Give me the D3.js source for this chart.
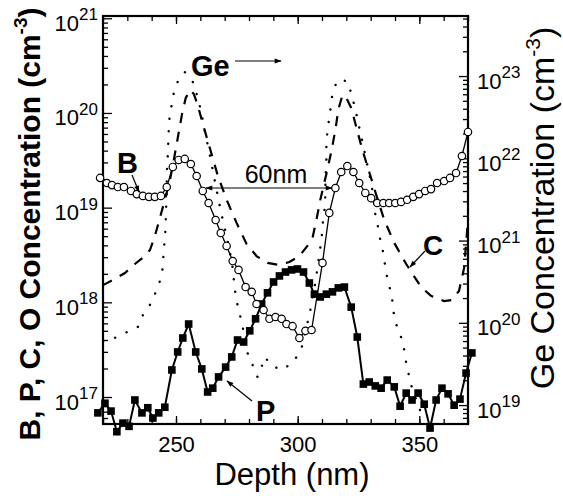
<!DOCTYPE html>
<html>
<head>
<meta charset="utf-8">
<script src="https://cdn.jsdelivr.net/npm/d3@7"></script>
<style>
body { margin: 0; background: #fff; }
text { font-family: "Liberation Sans", Arial, sans-serif; fill: #000; }
</style>
</head>
<body>
<div id="chart"></div>
<script>
// B profile (open circles), left axis
var bDepth = [218.8, 221.6, 223.7, 226.1, 228.6, 231.5, 233.9, 236.4, 238.9, 241.3,
    243.8, 246.2, 248.7, 251.1, 253.6, 256.1, 258.5, 261.0, 263.4, 266.3,
    268.4, 270.8, 273.3, 275.7, 278.6, 281.1, 283.1, 286.0, 288.4, 290.9,
    293.4, 295.4, 297.9, 300.7, 303.2, 305.7, 310.2, 313.0, 315.5, 317.9,
    320.4, 322.9, 325.3, 327.8, 330.2, 332.7, 335.2, 337.6, 340.1, 342.5,
    345.0, 347.5, 349.9, 352.4, 354.8, 357.3, 360.2, 362.6, 365.1, 367.5, 370.0];
var bConc = [2.06e19, 1.82e19, 1.73e19, 1.65e19, 1.65e19, 1.50e19, 1.39e19, 1.33e19, 1.30e19, 1.30e19,
    1.33e19, 1.65e19, 2.69e19, 3.19e19, 3.27e19, 2.89e19, 2.16e19, 1.50e19, 1.12e19, 7.4e18,
    5.4e18, 3.94e18, 2.73e18, 2.20e18, 1.45e18, 1.29e18, 9.6e17, 8.3e17, 6.7e17, 7.0e17,
    6.7e17, 5.9e17, 5.6e17, 4.2e17, 5.0e17, 5.1e17, 2.61e18, 8.8e18, 1.61e19, 2.38e19,
    2.75e19, 2.38e19, 1.82e19, 1.43e19, 1.26e19, 1.12e19, 1.12e19, 1.12e19, 1.12e19, 1.15e19,
    1.21e19, 1.30e19, 1.39e19, 1.50e19, 1.57e19, 1.82e19, 1.91e19, 2.06e19, 2.32e19, 3.51e19, 6.3e19];

// P profile (filled squares), left axis
var pDepth = [217.9, 220.8, 223.3, 225.7, 228.2, 230.7, 233.1, 236.0, 238.4, 240.5,
    242.9, 245.4, 248.3, 250.7, 252.8, 255.2, 258.1, 260.6, 263.0, 265.1,
    267.5, 270.4, 272.9, 275.3, 277.8, 280.3, 282.7, 285.2, 287.6, 290.1,
    292.5, 295.0, 297.5, 299.9, 302.4, 304.8, 306.9, 309.3, 311.8, 314.3,
    316.7, 319.2, 322.0, 324.5, 327.0, 329.4, 331.9, 334.3, 336.8, 339.7,
    342.1, 344.6, 347.0, 349.5, 352.0, 354.4, 356.9, 359.3, 361.8, 364.3,
    366.7, 369.2, 371.6];
var pConc = [6.8e16, 8.6e16, 7.1e16, 4.3e16, 5.3e16, 4.9e16, 9.3e16, 6.8e16, 7.7e16, 6.0e16,
    6.8e16, 7.8e16, 1.93e17, 2.99e17, 4.2e17, 5.9e17, 2.99e17, 1.98e17, 1.13e17, 1.24e17,
    1.63e17, 2.07e17, 2.65e17, 4.0e17, 3.81e17, 5.0e17, 6.7e17, 9.6e17, 1.26e18, 1.64e18,
    1.90e18, 2.09e18, 2.20e18, 2.25e18, 2.09e18, 1.60e18, 1.22e18, 1.14e18, 1.22e18, 1.29e18,
    1.42e18, 1.45e18, 8.9e17, 4.3e17, 1.37e17, 1.44e17, 1.31e17, 1.24e17, 1.51e17, 1.28e17,
    8.0e16, 1.10e17, 9.3e16, 1.10e17, 8.4e16, 4.7e16, 9.3e16, 1.24e17, 1.08e17, 8.2e16,
    9.5e16, 1.79e17, 2.92e17];

// C profile (dashed), left axis
var cDepth = [220.0, 224.9, 229.0, 233.1, 237.2, 239.3, 241.3, 243.4, 245.4, 247.5,
    249.1, 250.7, 252.4, 254.0, 255.7, 257.3, 258.9, 261.0, 263.9, 267.1,
    270.8, 274.9, 279.0, 283.1, 287.6, 292.5, 296.6, 300.7, 304.0, 306.1,
    307.7, 309.3, 311.8, 313.8, 315.5, 316.7, 318.4, 320.0, 322.0, 324.1,
    326.6, 329.4, 332.3, 335.6, 339.7, 344.6, 350.7, 354.8, 360.2, 363.4,
    366.3, 368.4, 370.0];
var cConc = [1.52e18, 1.77e18, 2.04e18, 2.54e18, 3.08e18, 3.57e18, 5.0e18, 7.8e18, 1.21e19, 1.96e19,
    3.19e19, 5.4e19, 9.5e19, 1.44e20, 1.75e20, 1.59e20, 1.22e20, 7.7e19, 4.27e19, 2.21e19,
    1.21e19, 6.9e18, 4.13e18, 3.08e18, 2.61e18, 2.48e18, 2.67e18, 3.08e18, 3.94e18, 4.78e18,
    7.4e18, 1.21e19, 2.27e19, 3.87e19, 6.6e19, 1.08e20, 1.55e20, 1.44e20, 1.13e20, 7.1e19,
    4.06e19, 2.38e19, 1.36e19, 7.4e18, 4.24e18, 2.54e18, 1.45e18, 1.17e18, 1.03e18, 1.06e18,
    1.32e18, 2.31e18, 7.4e18];

// Ge profile (dotted), right axis
var geDepth = [220.0, 224.1, 229.8, 234.3, 236.4, 240.1, 242.1, 244.2, 244.6, 245.0,
    245.4, 245.8, 245.8, 246.2, 246.2, 246.2, 246.6, 246.6, 247.0, 247.0,
    247.9, 248.7, 250.3, 253.6, 256.9, 258.6, 260.2, 261.4, 262.6, 263.9,
    265.1, 266.3, 267.5, 268.8, 270.4, 272.0, 273.3, 274.1, 274.9, 276.1,
    277.4, 279.4, 281.5, 283.5, 284.8, 286.4, 289.7, 293.4, 298.3, 301.6,
    304.0, 305.2, 306.1, 307.3, 308.1, 308.9, 309.8, 310.2, 311.0, 311.4,
    311.4, 311.8, 311.8, 312.2, 313.0, 313.8, 314.3, 316.3, 320.4, 322.0,
    323.3, 324.5, 325.7, 327.0, 328.2, 329.4, 330.7, 331.5, 332.7, 333.5,
    334.8, 335.6, 336.4, 337.6, 338.8, 339.3, 340.5, 342.5, 343.8, 344.6,
    345.8, 347.0, 350.7];
var geConc = [6.0e19, 6.4e19, 7.7e19, 8.9e19, 1.24e20, 1.79e20, 2.57e20, 3.70e20, 5.3e20, 7.7e20,
    1.07e21, 1.54e21, 2.22e21, 3.2e21, 4.6e21, 6.6e21, 9.5e21, 1.26e22, 1.81e22, 2.69e22,
    3.86e22, 5.6e22, 8.2e22, 1.12e23, 8.5e22, 5.9e22, 3.86e22, 2.54e22, 1.67e22, 1.10e22,
    7.2e21, 4.7e21, 3.1e21, 2.04e21, 1.27e21, 7.7e20, 4.6e20, 2.64e20, 1.84e20, 1.32e20,
    8.9e19, 4.3e19, 3.06e19, 2.19e19, 2.67e19, 3.84e19, 2.98e19, 2.67e19, 3.33e19, 4.93e19,
    9.9e19, 1.43e20, 2.06e20, 3.13e20, 4.6e20, 6.9e20, 1.01e21, 1.54e21, 2.35e21, 3.6e21,
    5.4e21, 9.5e21, 1.45e22, 2.09e22, 3.18e22, 4.7e22, 6.2e22, 8.9e22, 8.7e22, 6.2e22,
    4.4e22, 3.08e22, 2.09e22, 1.41e22, 9.5e21, 6.6e21, 4.1e21, 2.35e21, 1.68e21, 1.17e21,
    8.1e20, 5.8e20, 4.0e20, 2.88e20, 2.00e20, 1.39e20, 9.6e19, 6.7e19, 4.7e19, 3.24e19,
    2.25e19, 1.61e19, 8.0e18];

// Tick values
var xMajor = [250, 300, 350];
var xMinor = [220, 230, 240, 250, 260, 270, 280, 290, 300, 310, 320, 330, 340, 350, 360, 370];
var leftMajor = [1e17, 1e18, 1e19, 1e20, 1e21];
var rightMajor = [1e19, 1e20, 1e21, 1e22, 1e23];

var svgWidth = 563, svgHeight = 496;
var margin = { top: 16, right: 95, bottom: 72, left: 103 };
var width = svgWidth - margin.left - margin.right;
var height = svgHeight - margin.top - margin.bottom;

var svg = d3.select("#chart").append("svg")
    .attr("width", svgWidth)
    .attr("height", svgHeight);

var chartGroup = svg.append("g")
    .attr("transform", `translate(${margin.left}, ${margin.top})`);

// Scales
var xScale = d3.scaleLinear().domain([220, 370]).range([0, width]);
var yLeft = d3.scaleLog().domain([Math.pow(10, 16.715), Math.pow(10, 21.024)]).range([height, 0]);
var yRight = d3.scaleLog().domain([Math.pow(10, 18.77), Math.pow(10, 23.73)]).range([height, 0]);

// arrow head marker
var defs = svg.append("defs");
defs.append("marker")
    .attr("id", "head")
    .attr("viewBox", "0 0 10 10")
    .attr("refX", 9).attr("refY", 5)
    .attr("markerWidth", 10).attr("markerHeight", 7)
    .attr("markerUnits", "userSpaceOnUse")
    .attr("orient", "auto-start-reverse")
    .append("path")
    .attr("d", "M0,1.5 L10,5 L0,8.5 Z")
    .attr("fill", "#000");

// superscript labels for log ticks
function powerLabel(sel) {
    sel.each(function(d) {
        var t = d3.select(this).text(null);
        t.append("tspan").text("10");
        t.append("tspan").attr("font-size", "17px").attr("dy", "-10.5")
            .text(Math.round(Math.log10(d)));
    });
}

function styleAxis(g) {
    g.select(".domain").remove();
    g.selectAll(".tick line").attr("stroke", "#000").attr("stroke-width", 1.3);
    g.selectAll("text").attr("font-size", "22px").attr("font-family", "Liberation Sans, Arial, sans-serif");
}

// Left axis (B, P, C, O)
var leftMinor = yLeft.ticks().filter(v => leftMajor.indexOf(v) < 0);
chartGroup.append("g")
    .call(d3.axisLeft(yLeft).tickValues(leftMinor).tickSize(-5).tickFormat(""))
    .call(styleAxis);
var gLeft = chartGroup.append("g")
    .call(d3.axisLeft(yLeft).tickValues(leftMajor).tickSize(-9).tickPadding(5).tickFormat(d => d))
    .call(styleAxis);
gLeft.selectAll(".tick text").attr("dy", "12").call(powerLabel);

// Right axis (Ge)
var rightMinor = yRight.ticks().filter(v => rightMajor.indexOf(v) < 0);
chartGroup.append("g")
    .attr("transform", `translate(${width}, 0)`)
    .call(d3.axisRight(yRight).tickValues(rightMinor).tickSize(-5).tickFormat(""))
    .call(styleAxis);
var gRight = chartGroup.append("g")
    .attr("transform", `translate(${width}, 0)`)
    .call(d3.axisRight(yRight).tickValues(rightMajor).tickSize(-9).tickPadding(9).tickFormat(d => d))
    .call(styleAxis);
gRight.selectAll(".tick text").attr("dy", "12").call(powerLabel);

// Bottom and top axes
chartGroup.append("g")
    .attr("transform", `translate(0, ${height})`)
    .call(d3.axisBottom(xScale).tickValues(xMinor).tickSize(-5).tickFormat(""))
    .call(styleAxis);
chartGroup.append("g")
    .attr("transform", `translate(0, ${height})`)
    .call(d3.axisBottom(xScale).tickValues(xMajor).tickSize(-8).tickPadding(12))
    .call(styleAxis);
chartGroup.append("g")
    .call(d3.axisTop(xScale).tickValues(xMinor).tickSize(-5).tickFormat(""))
    .call(styleAxis);
chartGroup.append("g")
    .call(d3.axisTop(xScale).tickValues(xMajor).tickSize(-8).tickFormat(""))
    .call(styleAxis);

// Frame
chartGroup.append("rect")
    .attr("width", width).attr("height", height)
    .attr("fill", "none").attr("stroke", "#000").attr("stroke-width", 2.2);

// Build point lists
var bData = bDepth.map((d, i) => ({ depth: d, conc: bConc[i] }));
var pData = pDepth.map((d, i) => ({ depth: d, conc: pConc[i] }));
var cData = cDepth.map((d, i) => ({ depth: d, conc: cConc[i] }));
var geData = geDepth.map((d, i) => ({ depth: d, conc: geConc[i] }));

var lineLeft = d3.line().x(d => xScale(d.depth)).y(d => yLeft(d.conc));
var lineRight = d3.line().x(d => xScale(d.depth)).y(d => yRight(d.conc));

// Ge dotted
chartGroup.append("path")
    .datum(geData)
    .attr("d", lineRight)
    .attr("fill", "none")
    .attr("stroke", "#000")
    .attr("stroke-width", 2.4)
    .attr("stroke-linecap", "round")
    .attr("stroke-dasharray", "0.1,12.5");

// C dashed
chartGroup.append("path")
    .datum(cData)
    .attr("d", lineLeft)
    .attr("fill", "none")
    .attr("stroke", "#000")
    .attr("stroke-width", 2.2)
    .attr("stroke-dasharray", "10,9");

// P line and squares
chartGroup.append("path")
    .datum(pData)
    .attr("d", lineLeft)
    .attr("fill", "none")
    .attr("stroke", "#000")
    .attr("stroke-width", 2);
chartGroup.selectAll(".psq")
    .data(pData)
    .enter()
    .append("rect")
    .attr("class", "psq")
    .attr("x", d => xScale(d.depth) - 3.8)
    .attr("y", d => yLeft(d.conc) - 3.8)
    .attr("width", 7.6)
    .attr("height", 7.6)
    .attr("fill", "#000");

// B line and circles
chartGroup.append("path")
    .datum(bData)
    .attr("d", lineLeft)
    .attr("fill", "none")
    .attr("stroke", "#000")
    .attr("stroke-width", 1.3);
chartGroup.selectAll(".bdot")
    .data(bData)
    .enter()
    .append("circle")
    .attr("class", "bdot")
    .attr("cx", d => xScale(d.depth))
    .attr("cy", d => yLeft(d.conc))
    .attr("r", 3.7)
    .attr("fill", "#fff")
    .attr("stroke", "#000")
    .attr("stroke-width", 1.2);

// Annotations
function arrow(x1, y1, x2, y2, both) {
    var l = svg.append("line")
        .attr("x1", x1).attr("y1", y1).attr("x2", x2).attr("y2", y2)
        .attr("stroke", "#000").attr("stroke-width", 1.2)
        .attr("marker-end", "url(#head)");
    if (both) l.attr("marker-start", "url(#head)");
}
function label(txt, x, y, size, anchor) {
    svg.append("text")
        .attr("x", x).attr("y", y)
        .attr("font-size", size + "px")
        .attr("font-weight", "bold")
        .attr("text-anchor", anchor || "start")
        .text(txt);
}

label("Ge", 191, 76, 29);
arrow(235, 61, 281, 61);
label("B", 117, 173, 29);
arrow(132, 175, 139, 192);
label("C", 423, 255, 28);
arrow(425, 251, 410, 267);
label("P", 256, 421, 29);
arrow(252, 401, 227, 381);

svg.append("text")
    .attr("x", 276).attr("y", 183)
    .attr("font-size", "25px")
    .attr("text-anchor", "middle")
    .text("60nm");
arrow(206, 188, 332, 188, true);

// Axis titles
svg.append("text")
    .attr("x", 292).attr("y", 485)
    .attr("font-size", "31px")
    .attr("text-anchor", "middle")
    .text("Depth (nm)");

var leftTitle = svg.append("text")
    .attr("transform", "translate(40, 224) rotate(-90)")
    .attr("font-size", "30px")
    .attr("font-weight", "bold")
    .attr("text-anchor", "middle");
leftTitle.append("tspan").text("B, P, C, O Concentration (cm");
leftTitle.append("tspan").attr("font-size", "19px").attr("dy", "-13").text("-3");
leftTitle.append("tspan").attr("dy", "13").text(")");

var rightTitle = svg.append("text")
    .attr("transform", "translate(554, 208) rotate(-90)")
    .attr("font-size", "34px")
    .attr("text-anchor", "middle");
rightTitle.append("tspan").text("Ge Concentration (cm");
rightTitle.append("tspan").attr("font-size", "21px").attr("dy", "-14").text("-3");
rightTitle.append("tspan").attr("dy", "14").text(")");
</script>
</body>
</html>
